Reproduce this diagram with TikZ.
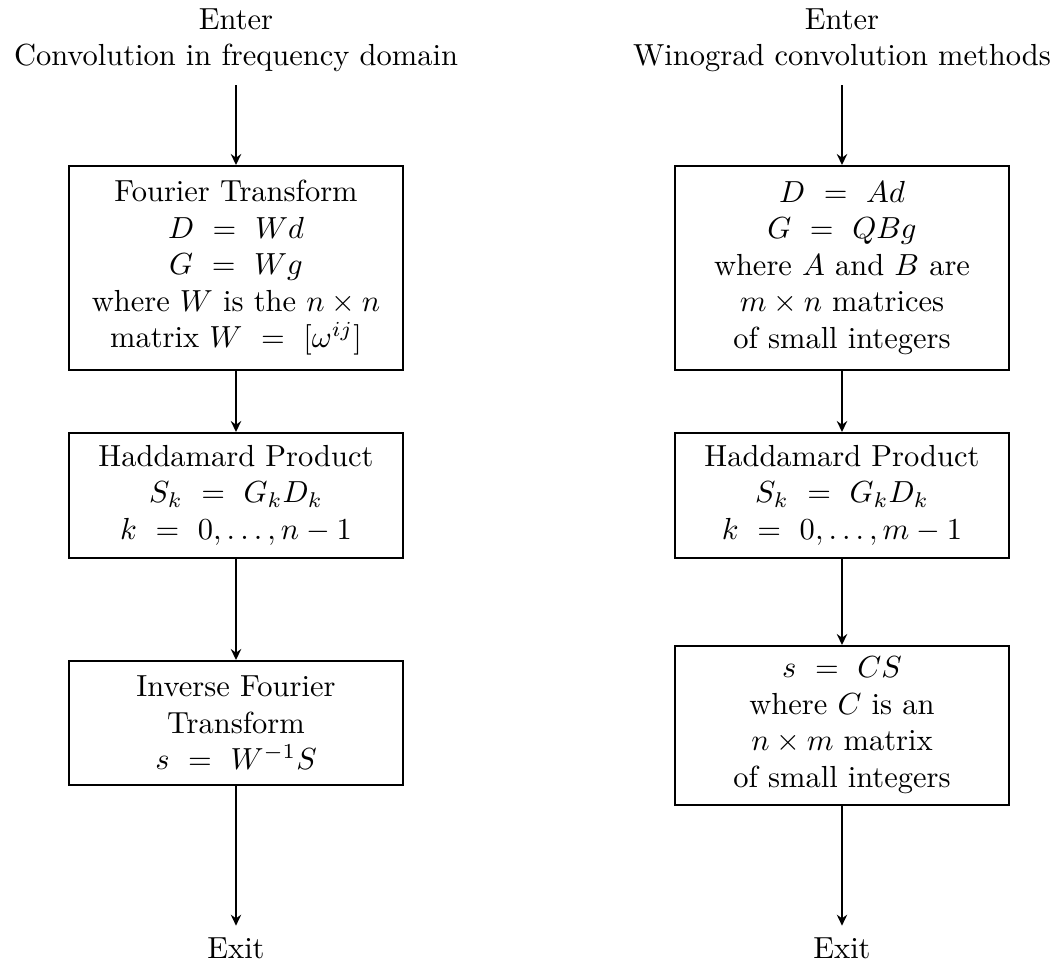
\documentclass[tikz,border=0pt]{standalone}
\usetikzlibrary{arrows.meta}
\begin{document}
\begin{tikzpicture}[x=0.328pt,y=-0.328pt,
  stepbox/.style={draw, line width=0.55pt, align=center, minimum width=109.5pt, inner sep=0pt, anchor=north},
  termtext/.style={align=center, inner xsep=0pt, inner ysep=4pt},
  flow/.style={line width=0.8pt, -{Stealth[length=3.6pt, width=3.4pt, inset=1.2pt]}}]
\useasboundingbox (0,0) rectangle (1059,969);
% left column
\node[termtext, anchor=south] (enterL) at (236,85) {Enter\\Convolution in frequency domain};
\node[stepbox, minimum height=204*0.328pt] (L1) at (236,165) {Fourier Transform\\$D \ = \ Wd$\\$G \ = \ Wg$\\where $W$ is the $n\times n$\\matrix $W \ = \ [\omega^{ij}]$};
\node[stepbox, minimum height=125*0.328pt] (L2) at (236,432) {Haddamard Product\\$S_k \ = \ G_kD_k$\\$k \ = \ 0,\ldots,n-1$};
\node[stepbox, minimum height=124*0.328pt] (L3) at (236,660) {Inverse Fourier\\Transform\\$s \ = \ W^{-1}S$};
\node[termtext, inner ysep=11*0.328pt, anchor=base] (exitL) at (236,958) {Exit};
% right column
\node[termtext, anchor=south] (enterR) at (842,85) {Enter\\Winograd convolution methods};
\node[stepbox, minimum height=204*0.328pt] (R1) at (842,165) {$D \ = \ Ad$\\$G \ = \ QBg$\\where $A$ and $B$ are\\$m\times n$ matrices\\of small integers};
\node[stepbox, minimum height=125*0.328pt] (R2) at (842,432) {Haddamard Product\\$S_k \ = \ G_kD_k$\\$k \ = \ 0,\ldots,m-1$};
\node[stepbox, minimum height=159*0.328pt] (R3) at (842,645) {$s \ = \ CS$\\where $C$ is an\\$n\times m$ matrix\\of small integers};
\node[termtext, inner ysep=11*0.328pt, anchor=base] (exitR) at (842,958) {Exit};
% connectors
\draw[flow] (enterL) -- (L1);
\draw[flow] (L1) -- (L2);
\draw[flow] (L2) -- (L3);
\draw[flow] (L3) -- (exitL);
\draw[flow] (enterR) -- (R1);
\draw[flow] (R1) -- (R2);
\draw[flow] (R2) -- (R3);
\draw[flow] (R3) -- (exitR);
\end{tikzpicture}
\end{document}
